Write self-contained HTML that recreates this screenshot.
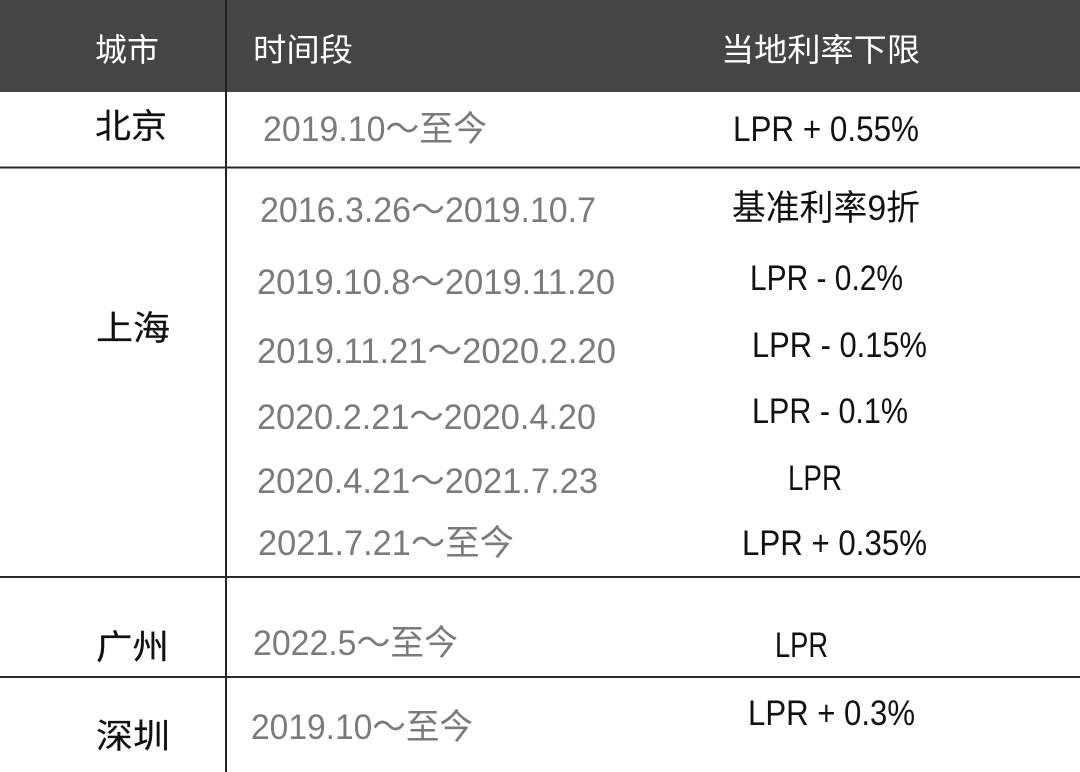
<!DOCTYPE html>
<html>
<head>
<meta charset="utf-8">
<style>
  html, body { margin: 0; padding: 0; background: #fff; }
  svg { display: block; }
  text { font-family: "Liberation Sans", "Noto Sans CJK SC", sans-serif; }
  .hd { fill: #ffffff; font-size: 32px; }
  .city { fill: #111111; font-size: 34px; stroke: #111111; stroke-width: 0.2px; }
  .date { fill: #7b7b7b; font-size: 35px; }
  .rate { fill: #111111; font-size: 35px; }
</style>
</head>
<body>
<svg width="1080" height="772" viewBox="0 0 1080 772" xmlns="http://www.w3.org/2000/svg">
  <rect x="0" y="0" width="1080" height="772" fill="#ffffff"/>
  <rect x="0" y="0" width="1080" height="92" fill="#454545"/>

  <!-- grid lines -->
  <rect x="225" y="0" width="2" height="772" fill="#222222"/>
  <rect x="0" y="166.5" width="1080" height="2" fill="#2a2a2a"/>
  <rect x="0" y="576" width="1080" height="2" fill="#2a2a2a"/>
  <rect x="0" y="676" width="1080" height="2" fill="#2a2a2a"/>

  <!-- header -->
  <text class="hd" x="95" y="61" textLength="64" lengthAdjust="spacingAndGlyphs">城市</text>
  <text class="hd" x="253" y="61" textLength="100" lengthAdjust="spacingAndGlyphs">时间段</text>
  <text class="hd" x="721" y="61" textLength="199" lengthAdjust="spacingAndGlyphs">当地利率下限</text>

  <!-- cities -->
  <text class="city" x="95" y="138" font-size="32" textLength="72" lengthAdjust="spacingAndGlyphs">北京</text>
  <text class="city" x="96" y="340" font-size="35" textLength="74" lengthAdjust="spacingAndGlyphs">上海</text>
  <text class="city" x="96" y="659" font-size="36" textLength="73" lengthAdjust="spacingAndGlyphs">广州</text>
  <text class="city" x="96" y="748" font-size="36" textLength="74" lengthAdjust="spacingAndGlyphs">深圳</text>

  <!-- dates -->
  <text class="date" x="263" y="141" textLength="224" lengthAdjust="spacingAndGlyphs">2019.10～至今</text>
  <text class="date" x="260" y="222" textLength="336" lengthAdjust="spacingAndGlyphs">2016.3.26～2019.10.7</text>
  <text class="date" x="257" y="294" textLength="358" lengthAdjust="spacingAndGlyphs">2019.10.8～2019.11.20</text>
  <text class="date" x="257" y="363" textLength="359" lengthAdjust="spacingAndGlyphs">2019.11.21～2020.2.20</text>
  <text class="date" x="257" y="429" textLength="339" lengthAdjust="spacingAndGlyphs">2020.2.21～2020.4.20</text>
  <text class="date" x="257" y="493" textLength="341" lengthAdjust="spacingAndGlyphs">2020.4.21～2021.7.23</text>
  <text class="date" x="258" y="555" textLength="256" lengthAdjust="spacingAndGlyphs">2021.7.21～至今</text>
  <text class="date" x="253" y="655" textLength="205" lengthAdjust="spacingAndGlyphs">2022.5～至今</text>
  <text class="date" x="251" y="739" textLength="222" lengthAdjust="spacingAndGlyphs">2019.10～至今</text>

  <!-- rates -->
  <text class="rate" x="733" y="141" textLength="186" lengthAdjust="spacingAndGlyphs">LPR + 0.55%</text>
  <text class="rate" x="732" y="220" font-size="32" textLength="188" lengthAdjust="spacingAndGlyphs">基准利率9折</text>
  <text class="rate" x="750" y="290" textLength="153" lengthAdjust="spacingAndGlyphs">LPR - 0.2%</text>
  <text class="rate" x="752" y="357" textLength="175" lengthAdjust="spacingAndGlyphs">LPR - 0.15%</text>
  <text class="rate" x="752" y="423" textLength="156" lengthAdjust="spacingAndGlyphs">LPR - 0.1%</text>
  <text class="rate" x="788" y="490" textLength="54" lengthAdjust="spacingAndGlyphs">LPR</text>
  <text class="rate" x="742" y="555" textLength="185" lengthAdjust="spacingAndGlyphs">LPR + 0.35%</text>
  <text class="rate" x="775" y="657" textLength="53" lengthAdjust="spacingAndGlyphs">LPR</text>
  <text class="rate" x="748" y="725" textLength="167" lengthAdjust="spacingAndGlyphs">LPR + 0.3%</text>
</svg>
</body>
</html>
